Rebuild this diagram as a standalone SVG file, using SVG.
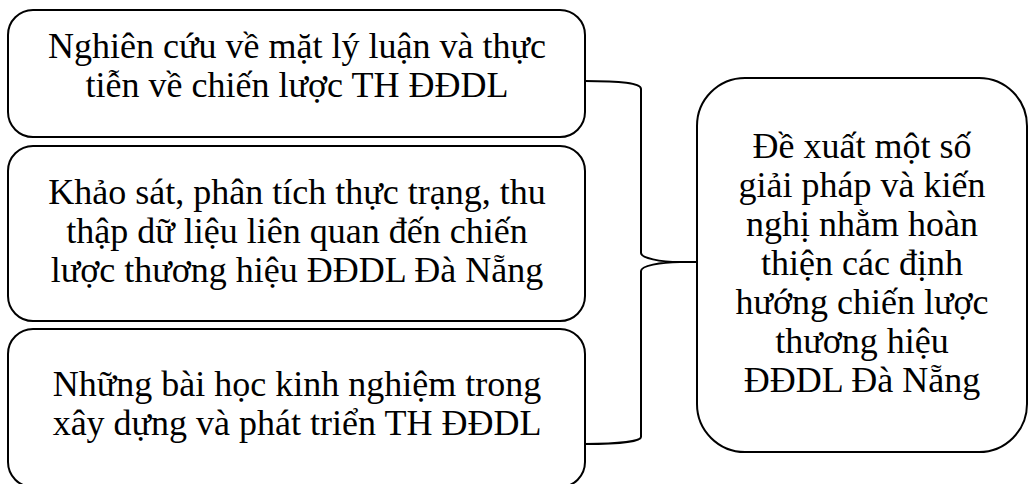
<svg xmlns="http://www.w3.org/2000/svg" width="1028" height="484" viewBox="0 0 1028 484">
<style>
.box{fill:#fff;stroke:#000;stroke-width:2}
.t{font-family:'Liberation Serif','Times New Roman',serif;font-size:36px;fill:#000;text-anchor:middle}
.c{fill:none;stroke:#000;stroke-width:2}
</style>
<rect width="1028" height="484" fill="#fff"/>
<g id="node1">
<rect class="box" x="8" y="10" width="577" height="127" rx="25"/>
<text class="t"><tspan x="297" y="58">Nghiên cứu về mặt lý luận và thực</tspan><tspan x="297" y="97">tiễn về chiến lược TH ĐĐDL</tspan></text>
</g>
<g id="node2">
<rect class="box" x="8" y="146" width="577" height="175" rx="25"/>
<text class="t"><tspan x="297" y="204">Khảo sát, phân tích thực trạng, thu</tspan><tspan x="297" y="243">thập dữ liệu liên quan đến chiến</tspan><tspan x="297" y="282">lược thương hiệu ĐĐDL Đà Nẵng</tspan></text>
</g>
<g id="node3">
<rect class="box" x="8" y="329" width="577" height="158" rx="25"/>
<text class="t"><tspan x="297" y="396">Những bài học kinh nghiệm trong</tspan><tspan x="297" y="435">xây dựng và phát triển TH ĐĐDL</tspan></text>
</g>
<g id="node4">
<rect class="box" x="697" y="78" width="330" height="374" rx="48"/>
<text class="t"><tspan x="862" y="158">Đề xuất một số</tspan><tspan x="862" y="197">giải pháp và kiến</tspan><tspan x="862" y="236">nghị nhằm hoàn</tspan><tspan x="862" y="275">thiện các định</tspan><tspan x="862" y="314">hướng chiến lược</tspan><tspan x="862" y="353">thương hiệu</tspan><tspan x="862" y="392">ĐĐDL Đà Nẵng</tspan></text>
</g>
<g id="connectors">
<path class="c" d="M585,81 C620,81 641,83 641,89 L641,253 C641,258 660,262 680,262 C660,262 641,266 641,271 L641,437 C641,441 620,444 585,444"/>
<path class="c" d="M680,262 L697,262"/>
</g>
</svg>
